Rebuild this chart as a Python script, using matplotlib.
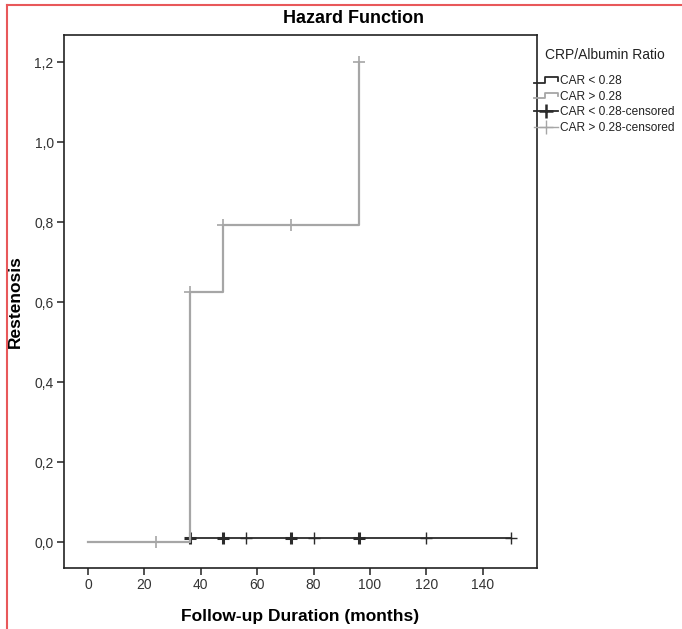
import matplotlib
matplotlib.use("Agg")
import matplotlib.pyplot as plt
from matplotlib.lines import Line2D
from matplotlib.legend_handler import HandlerBase

plt.rcParams['font.family'] = ['Liberation Sans', 'DejaVu Sans']

# ---- data ----
# CAR < 0.28 (black): cumulative hazard step function
low_time = [0, 36, 150]
low_hazard = [0.0, 0.01, 0.01]
low_cens_time = [36, 48, 56, 72, 80, 96, 120, 150]
low_cens_n = [3, 2, 1, 3, 1, 2, 1, 1]

# CAR > 0.28 (grey)
high_time = [0, 36, 48, 96]
high_hazard = [0.0, 0.625, 0.792, 1.2]
high_cens_time = [24, 36, 48, 72, 96]
high_cens_hazard = [0.0, 0.625, 0.792, 0.792, 1.2]

x_ticks = [0, 20, 40, 60, 80, 100, 120, 140]
y_ticks = [0.0, 0.2, 0.4, 0.6, 0.8, 1.0, 1.2]

BLACK = '#2b2b2b'
GREY = '#a6a6a6'


class StepHandler(HandlerBase):
    """Small step-shaped legend icon like SPSS draws."""
    def create_artists(self, legend, orig, xd, yd, w, h, fontsize, trans):
        y0 = yd + h * 0.15
        y1 = yd + h * 0.8
        xs = [xd, xd + w * 0.45, xd + w * 0.45, xd + w, xd + w]
        ys = [y0, y0, y1, y1, y0 + (y1 - y0) * 0.35]
        ln = Line2D(xs, ys, color=orig.get_color(), lw=orig.get_linewidth(),
                    transform=trans)
        return [ln]


fig = plt.figure(figsize=(6.82, 6.29), dpi=100)
ax = fig.add_axes([0.094, 0.097, 0.693, 0.847])

# black group first, grey on top
ax.step(low_time, low_hazard, where='post', color=BLACK, lw=1.3)
for t, n in zip(low_cens_time, low_cens_n):
    ax.plot(t, low_hazard[-1], marker='+', ms=9, color=BLACK,
            mew=1.0 if n == 1 else 2.2, ls='none')

ax.step(high_time, high_hazard, where='post', color=GREY, lw=1.6)
ax.plot(high_cens_time, high_cens_hazard, marker='+', ms=9, mew=1.2,
        color=GREY, ls='none')

ax.set_xlim(-8.5, 159.2)
ax.set_ylim(-0.065, 1.268)
ax.set_xticks(x_ticks)
ax.set_yticks(y_ticks)
ax.set_yticklabels([f"{v:.1f}".replace('.', ',') for v in y_ticks])
ax.tick_params(direction='out', length=5, width=1.2, labelsize=10,
               colors='#333333', pad=2.5)
for s in ax.spines.values():
    s.set_linewidth(1.2)
    s.set_color('#222222')

ax.set_xlabel('Follow-up Duration (months)', fontsize=12.5,
              fontweight='bold', labelpad=12)
ax.set_ylabel('Restenosis', fontsize=12.5, fontweight='bold', labelpad=8)
fig.text(0.519, 0.971, 'Hazard Function', ha='center', va='center',
         fontsize=13, fontweight='bold')

# legend: title placed by hand, entries below
fig.text(545 / 682, 1 - 55 / 629, 'CRP/Albumin Ratio', ha='left',
         va='center', fontsize=10, color='#222222')
handles = [
    Line2D([], [], color=BLACK, lw=1.3),
    Line2D([], [], color=GREY, lw=1.3),
    Line2D([], [], color=BLACK, marker='+', ms=10, mew=1.8, ls='-', lw=1.3),
    Line2D([], [], color=GREY, marker='+', ms=10, mew=1.0, ls='-', lw=1.0),
]
labels = ['CAR < 0.28', 'CAR > 0.28', 'CAR < 0.28-censored',
          'CAR > 0.28-censored']
leg = fig.legend(handles, labels, loc='upper left',
                 bbox_to_anchor=(534 / 682, 1 - 75 / 629), frameon=False,
                 fontsize=8.6, handlelength=2.0, handletextpad=0.15,
                 labelspacing=0.3, borderaxespad=0, borderpad=0,
                 handler_map={handles[0]: StepHandler(),
                              handles[1]: StepHandler()})
for t in leg.get_texts():
    t.set_color('#222222')

# red frame of the screenshot (top and left edges)
fig.add_artist(Line2D([0.0103, 1.0], [0.992, 0.992], color='#e8585a',
                      lw=1.5, transform=fig.transFigure))
fig.add_artist(Line2D([0.0103, 0.0103], [0.0, 0.992], color='#e8585a',
                      lw=1.5, transform=fig.transFigure))

fig.savefig('out.png', dpi=100)
